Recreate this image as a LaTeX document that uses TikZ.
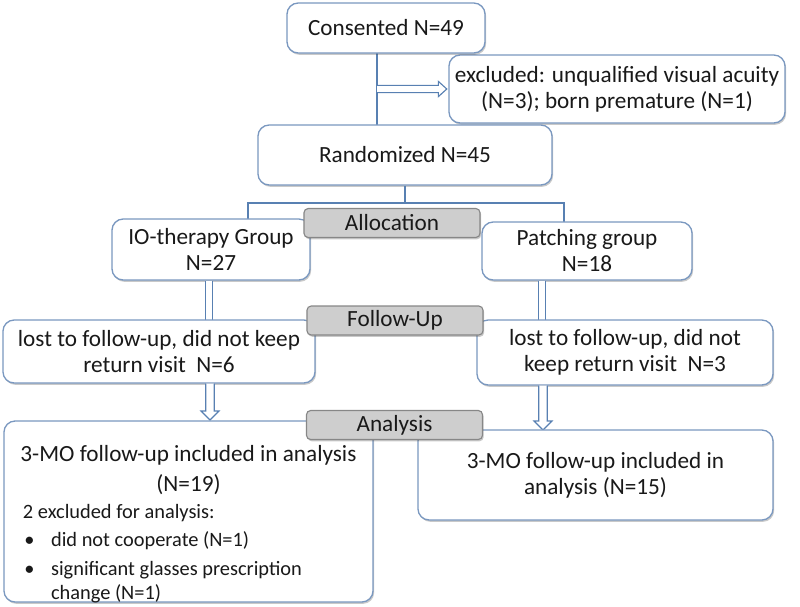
\documentclass[tikz,border=0pt]{standalone}
\usepackage{fontspec}
\setmainfont{Carlito}
\usetikzlibrary{shadows,calc}
\definecolor{boxc}{RGB}{122,152,192}
\definecolor{linec}{RGB}{88,128,178}
\definecolor{labfill}{RGB}{206,206,206}
\definecolor{labdraw}{RGB}{135,135,135}
\definecolor{txt}{RGB}{25,25,25}
\newcommand\myharrow[2]{\draw[hollow] let \p1=(#1), \p2=(#2) in
  (\x1,\y1+2.6pt) -- (\x2-6pt,\y1+2.6pt) -- (\x2-6pt,\y1+5.4pt) -- (\x2,\y1)
  -- (\x2-6pt,\y1-5.4pt) -- (\x2-6pt,\y1-2.6pt) -- (\x1,\y1-2.6pt);}
\newcommand\myvarrow[2]{\draw[hollow] let \p1=(#1), \p2=(#2) in
  (\x1-3pt,\y1) -- (\x1-3pt,\y2+6.4pt) -- (\x1-6.4pt,\y2+6.4pt) -- (\x1,\y2)
  -- (\x1+6.4pt,\y2+6.4pt) -- (\x1+3pt,\y2+6.4pt) -- (\x1+3pt,\y1);}
\newcommand\smallf{\fontsize{14.5}{17}\selectfont}
\begin{document}
\begin{tikzpicture}[x=0.025cm,y=-0.025cm,
  font=\fontsize{16.5}{18.5}\selectfont, text=txt,
  box/.style={draw=boxc, line width=0.95pt, fill=white, rounded corners=8pt,
    drop shadow={shadow xshift=0.8pt, shadow yshift=-1.3pt, opacity=0.3, fill=black!70},
    inner sep=0pt, align=center},
  lab/.style={draw=labdraw, line width=0.8pt, fill=labfill, rounded corners=3pt,
    drop shadow={shadow xshift=0.8pt, shadow yshift=-1.3pt, opacity=0.3, fill=black!70},
    minimum width=4.4cm, minimum height=0.725cm, inner sep=0pt},
  conn/.style={draw=linec, line width=1.1pt},
  hollow/.style={draw=linec, line width=0.8pt, fill=white, line join=miter}]
\useasboundingbox (0,0) rectangle (800,606);

\coordinate (cA) at (377,53);
\coordinate (bM) at (405,203);
\coordinate (bL) at (248,203);
\coordinate (bR) at (564,203);
\coordinate (s1) at (209,0);
\coordinate (s2) at (542,0);
\coordinate (s3) at (210,0);
\coordinate (s4) at (543,0);

\node[box, minimum width=8.4cm, minimum height=1.7cm] (excl) at (617,89)
  {excluded: unqualified visual acuity\\(N=3); born premature (N=1)};

% connector from Consented down to Randomized, with branch to excluded
\path (cA) ++(0,72) coordinate (cB);
\draw[conn] (cA) -- (cB);
\myharrow{cA |- excl.west}{$(excl.west)+(-1.5,0)$}
\node[box, minimum width=4.95cm, minimum height=1.25cm] (cons) at (386,28) {Consented N=49};
\node[box, minimum width=7.35cm, minimum height=1.5cm] (rand) at (405,155) {Randomized N=45};

\draw[conn] (rand.south) -- (bM);
\path (bL) ++(0,16) coordinate (bLd);
\path (bR) ++(0,19) coordinate (bRd);
\draw[conn] (bLd) -- (bL) -- (bR) -- (bRd);

\node[box, minimum width=4.95cm, minimum height=1.525cm] (io) at (211,249.5) {IO-therapy Group\\N=27};
\node[box, minimum width=5.25cm, minimum height=1.45cm] (pat) at (587,251) {Patching group\\N=18};

\draw[conn, line width=0.8pt, double=white, double distance=0.13cm] (s1 |- io.south) -- ++(0,40) coordinate (s1e);
\draw[conn, line width=0.8pt, double=white, double distance=0.13cm] (s2 |- pat.south) -- ++(0,40) coordinate (s2e);

\node[box, minimum width=7.8cm, minimum height=1.575cm] (lostL) at (159,351.5)
  {lost to follow-up, did not keep\\return visit~~N=6};
\node[box, minimum width=7.4cm, minimum height=1.625cm] (lostR) at (625,352.5)
  {lost to follow-up, did not\\keep return visit~~N=3};

\path (s3 |- lostL.south) coordinate (a3s);
\path (s3) ++(0,420) coordinate (a3e);
\path (s4 |- lostR.south) coordinate (a4s);
\path (s4) ++(0,430) coordinate (a4e);
\myvarrow{a3s}{a3e}
\myvarrow{a4s}{a4e}

\node[box, minimum width=9.225cm, minimum height=4.525cm] (botL) at (188.5,511.5) {};
\node[anchor=north, inner sep=0pt, align=left] (botLt) at ([yshift=-0.63cm]botL.north)
  {\makebox[8.275cm][c]{3-MO follow-up included in analysis}\\[2.5pt]
   \makebox[8.275cm][c]{(N=19)}\\[0.5pt]
   {\smallf 2 excluded for analysis:}\\[2pt]
   {\smallf\makebox[20pt][l]{\hspace{1pt}•}did not cooperate (N=1)}\\[2pt]
   {\smallf\makebox[20pt][l]{\hspace{1pt}•}significant glasses prescription}\\[-2pt]
   {\smallf\hspace*{20pt}change (N=1)}};
\node[box, minimum width=8.875cm, minimum height=2.25cm] (botR) at (595.5,475)
  {3-MO follow-up included in\\analysis (N=15)};

\node[lab] (alloc) at (392,223) {Allocation};
\node[lab] (follow) at (395,320.5) {Follow-Up};
\node[lab] (analysis) at (394.5,425) {Analysis};
\end{tikzpicture}
\end{document}
